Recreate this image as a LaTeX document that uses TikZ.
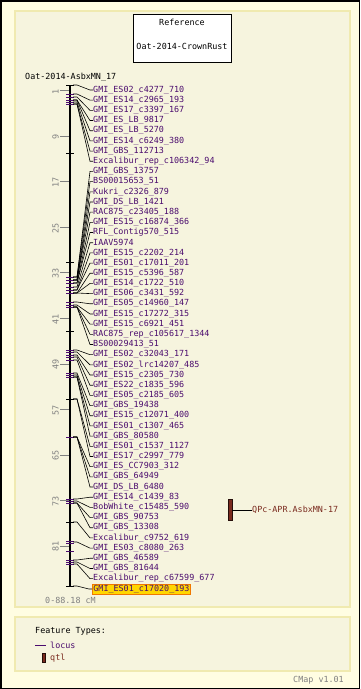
\documentclass[tikz,border=0pt]{standalone}
\usepackage{fontspec}
\newfontfamily\pix{DejaVu Sans Mono}
\usetikzlibrary{positioning}
\definecolor{outerbg}{RGB}{255,253,226}
\definecolor{panelbg}{RGB}{246,244,222}
\definecolor{panelrim}{RGB}{240,234,176}
\definecolor{mkpurple}{RGB}{75,12,110}
\definecolor{qtlbrown}{RGB}{122,42,30}
\definecolor{hlyellow}{RGB}{255,214,0}
\definecolor{hlorange}{RGB}{240,120,0}
\tikzset{
  pixfont/.style={font=\pix\fontsize{8.4}{10}\selectfont},
  lbl/.style={pixfont,text=mkpurple,anchor=west,inner sep=0pt},
  conn/.style={black,line width=0.6pt},
  mtick/.style={mkpurple,line width=0.8pt},
  btick/.style={black,line width=0.8pt},
  scl/.style={gray,line width=0.6pt},
  panel/.style={fill=panelbg,draw=panelrim,line width=1.2pt}
}
\begin{document}
\begin{tikzpicture}[x=1pt,y=-1pt]
    \useasboundingbox (0,0) rectangle (360,689);
    \draw[fill=outerbg,draw=black,line width=1.5pt] (0.75,0.75) rectangle (359.25,688.25);
    \draw[panel] (15,11) rectangle (350,607);
    \draw[panel] (15,617) rectangle (350,671);
    %reference box
    \draw[fill=white,draw=black,line width=0.8pt] (133,14) rectangle (231,62);
    \node (refA) [pixfont] at (182,22) {Reference};
    \node (refB) [pixfont] at (182,46) {Oat-2014-CrownRust};
    \node (mapname) [pixfont,anchor=west,inner sep=0pt] at (25,77) {Oat-2014-AsbxMN\_17};
    %scale ticks (cM)
    \foreach \c in {1,9,17,25,33,41,49,57,65,73,81}{
        \pgfmathsetmacro{\yy}{85+5.69*\c}
        \draw[scl] (60,\yy) -- (70,\yy);
        \node[pixfont,text=gray,rotate=90,inner sep=0pt] at (55.5,\yy+1) {\c};
    }
    %chromosome axis
    \coordinate (top) at (70,85);
    \coordinate (bot) at (70,587);
    \draw[black,line width=2pt] (top) -- (bot);
    \foreach \t in {85,153,262,331,399,522,586}
        \draw[btick] (66,\t) -- (74,\t);
    \foreach \t in {94,97,100,102,104,277,280,283,287,290,293,302,305,307,
                    350,352,355,357,360,373,375,377,437,499,501,503,541,543,551,560,562,564}
        \draw[mtick] (66,\t) -- (74,\t);
    %markers: index / axis y / name
    \foreach \i/\ym/\txt in {
        1/85/GMI\_ES02\_c4277\_710, 2/94/GMI\_ES14\_c2965\_193, 3/97/GMI\_ES17\_c3397\_167,
        4/100/GMI\_ES\_LB\_9817, 5/100/GMI\_ES\_LB\_5270, 6/102/GMI\_ES14\_c6249\_380,
        7/104/GMI\_GBS\_112713, 8/104/Excalibur\_rep\_c106342\_94, 9/277/GMI\_GBS\_13757,
        10/277/BS00015653\_51, 11/280/Kukri\_c2326\_879, 12/280/GMI\_DS\_LB\_1421,
        13/280/RAC875\_c23405\_188, 14/283/GMI\_ES15\_c16874\_366, 15/283/RFL\_Contig570\_515,
        16/287/IAAV5974, 17/290/GMI\_ES15\_c2202\_214, 18/290/GMI\_ES01\_c17011\_201,
        19/293/GMI\_ES15\_c5396\_587, 20/293/GMI\_ES14\_c1722\_510, 21/293/GMI\_ES06\_c3431\_592,
        22/302/GMI\_ES05\_c14960\_147, 23/305/GMI\_ES15\_c17272\_315, 24/307/GMI\_ES15\_c6921\_451,
        25/307/RAC875\_rep\_c105617\_1344, 26/307/BS00029413\_51, 27/350/GMI\_ES02\_c32043\_171,
        28/352/GMI\_ES02\_lrc14207\_485, 29/355/GMI\_ES15\_c2305\_730, 30/357/GMI\_ES22\_c1835\_596,
        31/360/GMI\_ES05\_c2185\_605, 32/373/GMI\_GBS\_19438, 33/375/GMI\_ES15\_c12071\_400,
        34/377/GMI\_ES01\_c1307\_465, 35/377/GMI\_GBS\_80580, 36/399/GMI\_ES01\_c1537\_1127,
        37/399/GMI\_ES17\_c2997\_779, 38/437/GMI\_ES\_CC7903\_312, 39/437/GMI\_GBS\_64949,
        40/437/GMI\_DS\_LB\_6480, 41/499/GMI\_ES14\_c1439\_83, 42/501/BobWhite\_c15485\_590,
        43/503/GMI\_GBS\_90753, 44/503/GMI\_GBS\_13308, 45/522/Excalibur\_c9752\_619,
        46/542/GMI\_ES03\_c8080\_263, 47/560/GMI\_GBS\_46589, 48/562/GMI\_GBS\_81644,
        49/564/Excalibur\_rep\_c67599\_677}{
        \coordinate (a\i) at (73,\ym);
        \node (m\i) [lbl] at (93,{90+(\i-1)*10.18}) {\txt};
        \draw[conn] (a\i) -- ++(4,0) -- ([xshift=-3pt]m\i.west) -- (m\i.west);
    }
    %highlighted marker
    \coordinate (a50) at (73,586);
    \node (m50) [lbl,fill=hlyellow,draw=hlorange,line width=0.8pt,inner sep=1pt] at (92,589) {GMI\_ES01\_c17020\_193};
    \draw[conn] (a50) -- ++(4,0) -- ([xshift=-3pt]m50.west) -- (m50.west);
    \node (range) [pixfont,text=gray,anchor=west,inner sep=0pt] at (45,600) {0-88.18 cM};
    %qtl
    \node (qtl) [draw=black!70!qtlbrown,fill=qtlbrown,minimum width=4pt,minimum height=21pt,inner sep=0pt] at (230,510) {};
    \node (qlab) [lbl,text=qtlbrown] at (252,510) {QPc-APR.AsbxMN-17};
    \draw[black,line width=0.6pt] (qtl.east) -- (qlab.west);
    %legend
    \node (ftypes) [pixfont,anchor=west,inner sep=0pt] at (35,631) {Feature Types:};
    \node (locus) [lbl] at (50,645) {locus};
    \draw[mkpurple,line width=0.8pt] ([xshift=-15pt]locus.west) -- ([xshift=-4pt]locus.west);
    \node (qtlkey) [lbl,text=qtlbrown] at (50,658) {qtl};
    \node (qtlbar) [draw=black!70!qtlbrown,fill=qtlbrown,minimum width=3pt,minimum height=9pt,inner sep=0pt,left=5pt of qtlkey] {};
    \node (ver) [pixfont,text=gray,anchor=east,inner sep=0pt] at (344,680) {CMap v1.01};
\end{tikzpicture}
\end{document}
